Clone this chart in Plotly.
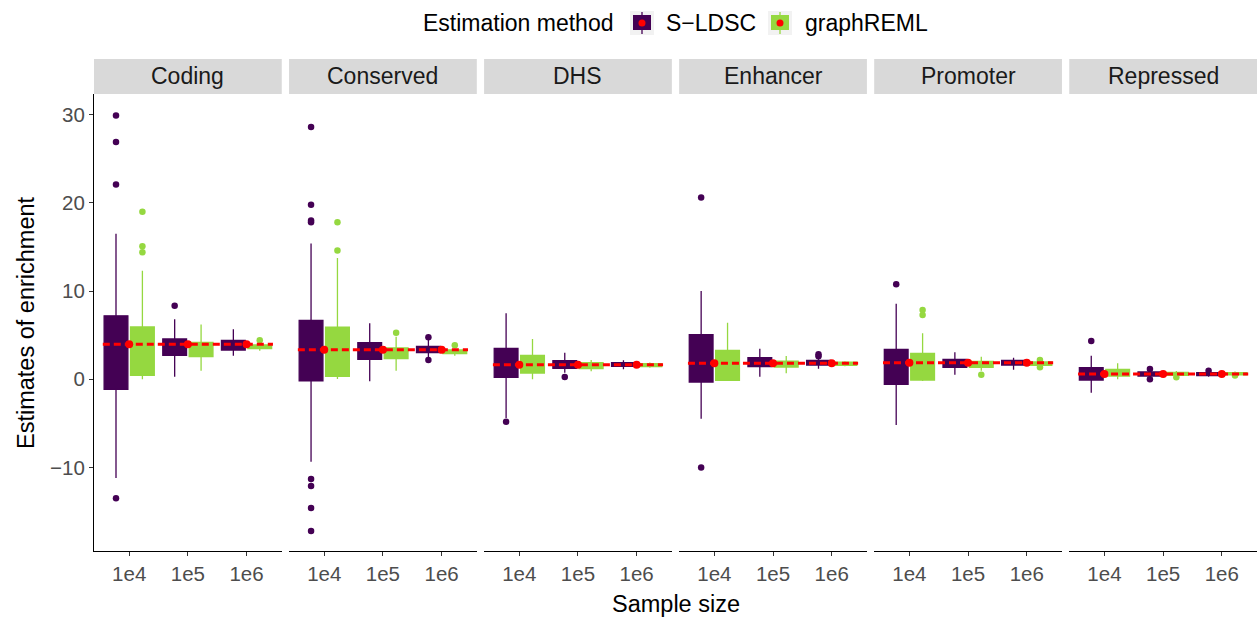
import plotly.graph_objects as go
from plotly.subplots import make_subplots

# ---------------------------------------------------------------- data
facets = ["Coding", "Conserved", "DHS", "Enhancer", "Promoter", "Repressed"]
sample_sizes = ["1e4", "1e5", "1e6"]
methods = ["S\u2212LDSC", "graphREML"]
method_colors = ["#440154", "#95D840"]

# true enrichment per annotation (dashed reference line)
true_enrichment = [3.97, 3.36, 1.66, 1.81, 1.88, 0.60]
# mean estimate per annotation and sample size (red points)
mean_estimates = [
    [3.97, 3.97, 3.97],
    [3.36, 3.36, 3.36],
    [1.66, 1.66, 1.66],
    [1.81, 1.81, 1.81],
    [1.88, 1.88, 1.88],
    [0.60, 0.60, 0.60],
]

# S-LDSC box statistics: one row per annotation, one value per sample size
sldsc_lower = [[-11.2, 0.30, 2.68], [-9.34, -0.23, 2.45], [-4.4, 0.75, 1.13],
               [-4.47, 0.30, 1.20], [-5.18, 0.52, 1.09], [-1.52, 0.20, 0.30]]
sldsc_q1 = [[-1.13, 2.72, 3.32], [-0.19, 2.27, 3.02], [0.22, 1.25, 1.47],
            [-0.31, 1.43, 1.62], [-0.57, 1.36, 1.62], [-0.08, 0.37, 0.41]]
sldsc_median = [[3.5, 3.9, 3.95], [3.0, 3.3, 3.4], [1.7, 1.65, 1.66],
                [1.8, 1.85, 1.85], [1.9, 1.85, 1.9], [0.6, 0.6, 0.6]]
sldsc_q3 = [[7.20, 4.57, 4.42], [6.69, 4.15, 3.74], [3.51, 2.11, 1.88],
            [5.06, 2.45, 2.15], [3.40, 2.27, 2.15], [1.32, 0.83, 0.75]]
sldsc_upper = [[16.5, 6.80, 5.67], [15.4, 6.35, 4.45], [7.48, 3.02, 2.15],
               [10.0, 3.47, 2.30], [8.57, 3.06, 2.45], [2.68, 0.95, 0.85]]
sldsc_outliers = [
    [[29.9, 26.9, 22.1, -13.5], [8.35], []],
    [[28.6, 19.8, 18.0, 17.8, -11.3, -12.1, -14.6, -17.2], [], [4.76, 2.19]],
    [[-4.8], [0.26], []],
    [[20.6, -10.0], [], [2.62, 2.85]],
    [[10.77], [], []],
    [[4.34], [1.17, 0.0], [0.98]],
]

# graphREML box statistics
greml_lower = [[0.0, 0.98, 3.24], [0.03, 0.98, 2.68], [0.0, 0.90, 1.30],
               [-0.2, 0.68, 1.47], [-0.2, 0.98, 1.40], [0.0, 0.35, 0.42]]
greml_q1 = [[0.45, 2.56, 3.47], [0.34, 2.34, 2.90], [0.71, 1.20, 1.43],
            [-0.12, 1.39, 1.59], [-0.08, 1.36, 1.59], [0.37, 0.45, 0.50]]
greml_median = [[3.2, 3.4, 3.7], [3.0, 3.0, 3.1], [1.6, 1.6, 1.6],
                [1.6, 1.7, 1.75], [1.6, 1.7, 1.8], [0.6, 0.6, 0.6]]
greml_q3 = [[5.93, 4.19, 3.89], [5.90, 3.55, 3.32], [2.72, 1.88, 1.77],
            [3.29, 2.07, 1.93], [2.95, 2.04, 1.96], [1.13, 0.79, 0.75]]
greml_upper = [[12.3, 6.20, 4.00], [13.75, 4.83, 3.45], [4.57, 2.19, 1.90],
               [6.42, 2.64, 2.05], [5.22, 2.56, 2.05], [1.81, 0.95, 0.88]]
greml_outliers = [
    [[19.0, 15.1, 14.4], [], [4.42]],
    [[17.8, 14.6], [5.28], [3.85]],
    [[], [], []],
    [[], [], []],
    [[7.86, 7.29], [0.52], [2.19, 1.36]],
    [[], [0.23], [0.42]],
]

stats = [
    (sldsc_lower, sldsc_q1, sldsc_median, sldsc_q3, sldsc_upper, sldsc_outliers),
    (greml_lower, greml_q1, greml_median, greml_q3, greml_upper, greml_outliers),
]

# ---------------------------------------------------------------- layout constants
W, H = 1257, 620
ML, MR, MT, MB = 94, 0, 94, 69
PW, PH = W - ML - MR, H - MT - MB
FONT = "Liberation Sans, Arial, Helvetica, sans-serif"
TITLE_SIZE = 23.5
STRIP_SIZE = 23
LEGEND_SIZE = 23
TICK_SIZE = 20.5
DODGE = 0.225       # offset of each method from the category centre
BOX_W = 0.405       # box width in category units
YRANGE = [-19.47, 32.35]


def xp(px):
    return (px - ML) / PW


def yp(py):
    return (H - MB - py) / PH


fig = make_subplots(rows=1, cols=6, shared_yaxes=True,
                    horizontal_spacing=7.3 / PW)

cat_pos = [i + 1 for i in range(len(sample_sizes))]

for f, facet in enumerate(facets):
    col = f + 1
    for m, (lo, q1, med, q3, hi, outl) in enumerate(stats):
        off = -DODGE if m == 0 else DODGE
        xs = [c + off for c in cat_pos]
        color = method_colors[m]
        fig.add_trace(go.Box(
            x=xs, q1=q1[f], median=med[f], q3=q3[f],
            lowerfence=lo[f], upperfence=hi[f],
            width=BOX_W, whiskerwidth=0, boxpoints=False,
            fillcolor=color, line=dict(color=color, width=1.3),
            name=methods[m], showlegend=False, hoverinfo="skip",
        ), row=1, col=col)
        ox, oy = [], []
        for k, vals in enumerate(outl[f]):
            for v in vals:
                ox.append(xs[k])
                oy.append(v)
        if ox:
            fig.add_trace(go.Scatter(
                x=ox, y=oy, mode="markers",
                marker=dict(color=color, size=6.5, line=dict(width=0)),
                showlegend=False, hoverinfo="skip",
            ), row=1, col=col)

    # dashed true-value line across the three sample sizes
    fig.add_trace(go.Scatter(
        x=[cat_pos[0] - 0.45, cat_pos[-1] + 0.45],
        y=[true_enrichment[f], true_enrichment[f]],
        mode="lines", line=dict(color="#FF0000", width=3, dash="7px,4px"),
        showlegend=False, hoverinfo="skip",
    ), row=1, col=col)

    # mean estimates
    fig.add_trace(go.Scatter(
        x=cat_pos, y=mean_estimates[f], mode="markers",
        marker=dict(color="#FF0000", size=8, line=dict(width=0)),
        showlegend=False, hoverinfo="skip",
    ), row=1, col=col)

    # facet strip
    xref = "x domain" if col == 1 else f"x{col} domain"
    fig.add_shape(type="rect", xref=xref, yref="paper",
                  x0=0, x1=1, y0=1, y1=1 + 35 / PH,
                  fillcolor="#D9D9D9", line=dict(width=0), layer="below")
    fig.add_annotation(xref=xref, yref="paper", x=0.5, y=1 + 17.5 / PH,
                       text=facet, showarrow=False,
                       font=dict(family=FONT, size=STRIP_SIZE, color="#1A1A1A"),
                       xanchor="center", yanchor="middle")

    fig.update_xaxes(
        row=1, col=col, range=[0.4, 3.6], tickvals=cat_pos, ticktext=sample_sizes,
        showline=True, linecolor="black", linewidth=1.2, ticks="outside",
        ticklen=4, tickcolor="#333333", tickwidth=1.1, showgrid=False,
        zeroline=False, tickfont=dict(family=FONT, size=TICK_SIZE, color="#4D4D4D"),
    )
    fig.update_yaxes(
        row=1, col=col, range=YRANGE, showgrid=False, zeroline=False,
        showline=(col == 1), linecolor="black", linewidth=1.2,
        ticks="outside" if col == 1 else "", ticklen=4, tickcolor="#333333",
        tickwidth=1.1, tickvals=[-10, 0, 10, 20, 30],
        showticklabels=(col == 1),
        tickfont=dict(family=FONT, size=TICK_SIZE, color="#4D4D4D"),
    )

# axis titles
fig.add_annotation(xref="paper", yref="paper", x=0.5, y=yp(604),
                   text="Sample size", showarrow=False,
                   font=dict(family=FONT, size=TITLE_SIZE, color="black"),
                   xanchor="center", yanchor="middle")
fig.add_annotation(xref="paper", yref="paper", x=xp(26), y=yp(323),
                   text="Estimates of enrichment", showarrow=False, textangle=-90,
                   font=dict(family=FONT, size=TITLE_SIZE, color="black"),
                   xanchor="center", yanchor="middle")

# legend
fig.add_annotation(xref="paper", yref="paper", x=xp(615), y=yp(23),
                   text="Estimation method", showarrow=False,
                   font=dict(family=FONT, size=LEGEND_SIZE, color="black"),
                   xanchor="right", yanchor="middle")
legend_keys = [(630, 664), (768, 803)]
for m, (kx, tx) in enumerate(legend_keys):
    fig.add_shape(type="rect", xref="paper", yref="paper",
                  x0=xp(kx), x1=xp(kx + 24), y0=yp(35), y1=yp(11),
                  fillcolor="#F2F2F2", line=dict(width=0))
    fig.add_shape(type="line", xref="paper", yref="paper",
                  x0=xp(kx + 12), x1=xp(kx + 12), y0=yp(34), y1=yp(12),
                  line=dict(color=method_colors[m], width=1.3))
    fig.add_shape(type="rect", xref="paper", yref="paper",
                  x0=xp(kx + 3), x1=xp(kx + 21), y0=yp(30), y1=yp(15),
                  fillcolor=method_colors[m], line=dict(width=0))
    fig.add_shape(type="circle", xref="paper", yref="paper",
                  x0=xp(kx + 8.5), x1=xp(kx + 15.5), y0=yp(26.5), y1=yp(19.5),
                  fillcolor="#FF0000", line=dict(width=0))
    fig.add_annotation(xref="paper", yref="paper", x=xp(tx), y=yp(23),
                       text=methods[m], showarrow=False,
                       font=dict(family=FONT, size=LEGEND_SIZE, color="black"),
                       xanchor="left", yanchor="middle")

fig.update_layout(
    width=W, height=H, boxmode="overlay",
    margin=dict(l=ML, r=MR, t=MT, b=MB),
    plot_bgcolor="white", paper_bgcolor="white",
    showlegend=False,
)

fig.write_html("out.html")
